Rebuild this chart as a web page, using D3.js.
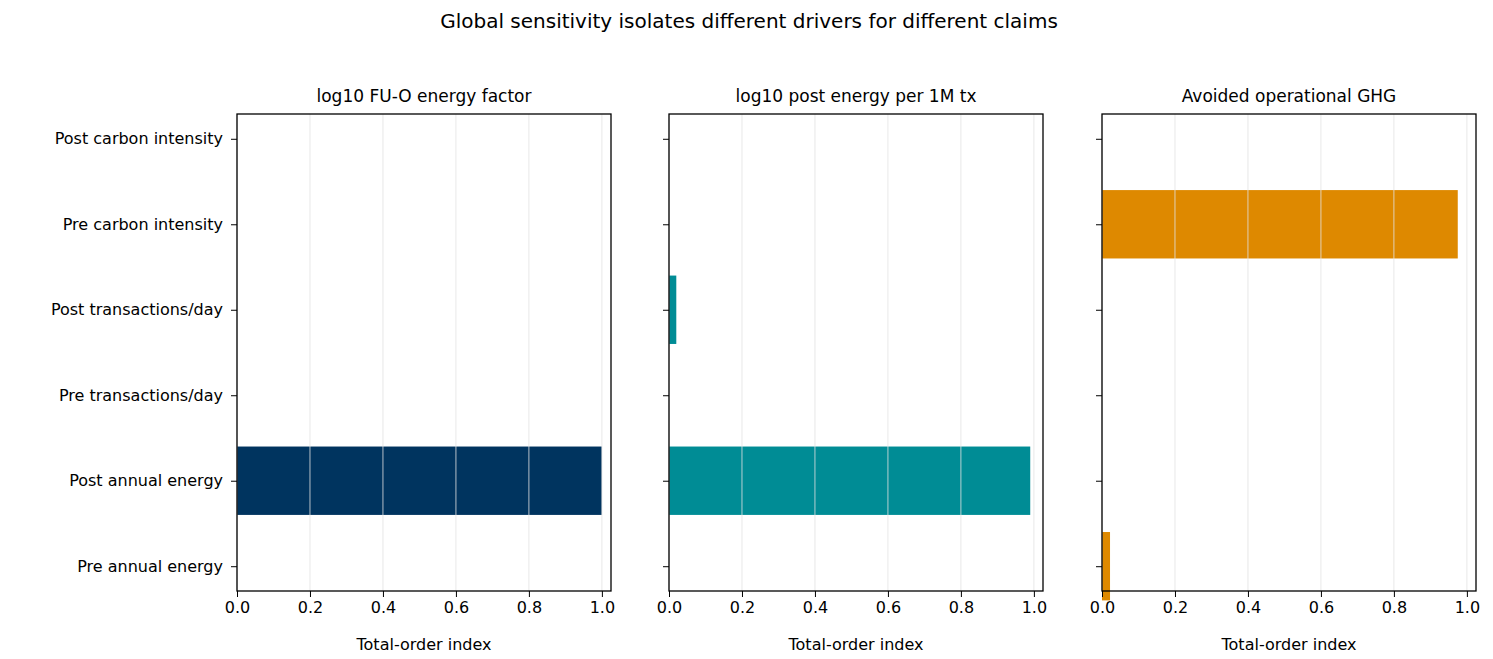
<!DOCTYPE html>
<html>
<head>
<meta charset="utf-8">
<script src="https://cdn.jsdelivr.net/npm/d3@7"></script>
<style>
  body { margin: 0; background: #fff; }
  text { font-family: "DejaVu Sans", sans-serif; fill: #000; }
</style>
</head>
<body>
<div id="chart"></div>
<script>
// parameters, top to bottom as drawn
const params = ["Post carbon intensity", "Pre carbon intensity", "Post transactions/day",
                "Pre transactions/day", "Post annual energy", "Pre annual energy"];
const panelTitles = ["log10 FU-O energy factor", "log10 post energy per 1M tx", "Avoided operational GHG"];
const panelColors = ["#00345f", "#008c95", "#de8900"];
const fuoValues = [0, 0, 0, 0, 1.0, 0];
const txValues = [0, 0, 0.02, 0, 0.99, 0];
const ghgValues = [0, 0.975, 0, 0, 0, 0.022];
const xTicks = [0, 0.2, 0.4, 0.6, 0.8, 1.0];

const panels = [fuoValues, txValues, ghgValues];
const width = 1493, height = 659;
const panelLeft = [237, 669, 1102], panelW = 374;
const plotTop = 114, plotBottom = 591;

const svg = d3.select("#chart").append("svg")
    .attr("width", width).attr("height", height);

svg.append("text")
    .attr("x", 749).attr("y", 28)
    .attr("text-anchor", "middle")
    .style("font-size", "20px")
    .text("Global sensitivity isolates different drivers for different claims");

// matplotlib-style barh: positions 0..5, bar height 0.8, 5% margins
const y = d3.scaleLinear().domain([5.29, -0.29]).range([plotTop, plotBottom]);

panels.forEach((values, p) => {
    const x0 = panelLeft[p];
    const x = d3.scaleLinear().domain([0, 1.025]).range([x0, x0 + panelW]);
    const g = svg.append("g");

    g.selectAll("rect.bar")
        .data(values)
        .join("rect")
        .attr("class", "bar")
        .attr("x", x(0))
        .attr("width", d => x(d) - x(0))
        .attr("y", (d, i) => y(5 - i + 0.4))
        .attr("height", y(0) - y(0.8))
        .attr("fill", panelColors[p]);

    g.selectAll("line.grid")
        .data(xTicks)
        .join("line")
        .attr("class", "grid")
        .attr("x1", d => x(d)).attr("x2", d => x(d))
        .attr("y1", plotTop).attr("y2", plotBottom)
        .attr("stroke", "#e2e2e2").attr("stroke-opacity", 0.8).attr("stroke-width", 1);

    g.append("rect")
        .attr("x", x0).attr("y", plotTop).attr("width", panelW).attr("height", plotBottom - plotTop)
        .attr("fill", "none").attr("stroke", "#000").attr("stroke-width", 1.3);

    const xAxis = g.append("g")
        .attr("transform", `translate(0,${plotBottom})`)
        .call(d3.axisBottom(x).tickValues(xTicks).tickFormat(d3.format(".1f")).tickSize(6).tickPadding(5));
    xAxis.select(".domain").remove();
    xAxis.selectAll("text").style("font-size", "16px").style("font-family", "DejaVu Sans");

    const yAxis = g.append("g")
        .attr("transform", `translate(${x0},0)`)
        .call(d3.axisLeft(y).tickValues(d3.range(6)).tickFormat(i => p === 0 ? params[5 - i] : "").tickSize(6).tickPadding(8));
    yAxis.select(".domain").remove();
    yAxis.selectAll("text").style("font-size", "16px").style("font-family", "DejaVu Sans");

    g.append("text")
        .attr("x", x0 + panelW / 2).attr("y", 102)
        .attr("text-anchor", "middle").style("font-size", "17px")
        .text(panelTitles[p]);

    g.append("text")
        .attr("x", x0 + panelW / 2).attr("y", 650)
        .attr("text-anchor", "middle").style("font-size", "16px")
        .text("Total-order index");
});
</script>
</body>
</html>
